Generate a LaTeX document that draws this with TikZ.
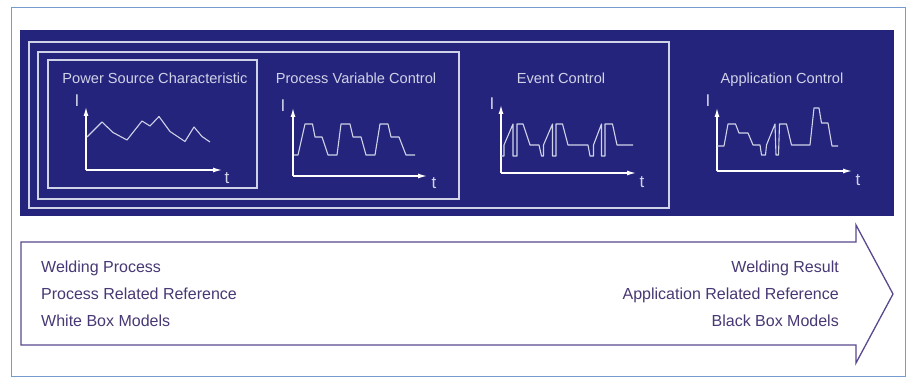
\documentclass[tikz,border=0pt]{standalone}
\usepackage{fontspec}
\setmainfont{Liberation Sans}
\usetikzlibrary{positioning, arrows.meta}
\definecolor{navy}{RGB}{36,36,124}
\definecolor{framegrey}{RGB}{208,210,232}
\definecolor{arrowline}{RGB}{90,72,142}
\definecolor{labeltext}{RGB}{72,56,116}
\definecolor{pageline}{RGB}{118,156,206}

\begin{document}
\begin{tikzpicture}[x=1pt, y=-1pt,
    title/.style={text=framegrey, font=\fontsize{14.6}{17}\selectfont, anchor=base, inner sep=0pt},
    axislabel/.style={text=framegrey, font=\fontsize{17}{20}\selectfont, anchor=base, inner sep=0pt},
    note/.style={text=labeltext, font=\fontsize{16}{19}\selectfont, inner sep=0pt},
    frameline/.style={draw=framegrey, line width=1.2pt},
    curveline/.style={framegrey, line width=1.1pt, line join=round},
    axisline/.style={white, line width=1.2pt, -{Latex[length=9pt,width=5pt]}}]
    \useasboundingbox (0,0) rectangle (908,379);
    \fill[white] (0,0) rectangle (908,379);
    \draw[pageline, line width=1pt] (11,8) rectangle (905,377);

    % dark panel with the nested control frames
    \fill[navy] (20,30) rectangle (894,216);
    \draw[frameline] (29,42) rectangle (669,208);
    \draw[frameline] (38,52) rectangle (459,199);
    \draw[frameline] (48,60) rectangle (257,188);

    \node[title] (psc) at (155,84) {Power Source Characteristic};
    \node[title] (pvc) at (356,84) {Process Variable Control};
    \node[title] (evc) at (561,84) {Event Control};
    \node[title] (apc) at (782,84) {Application Control};

    % axes
    \foreach \n/\ox/\oy/\tx/\ty/\ix/\iy/\sx/\sy in
      {1/86/170/222/107/77/107/227/184,
       2/293/176/427/108/283/112/434/189,
       3/501/173/636/105/492/110/642/188,
       4/717/171/852/108/708/107/858/186}
    {
    \coordinate (O\n) at (\ox,\oy);
    \coordinate (X\n) at (\tx,\oy);
    \coordinate (Y\n) at (\ox,\ty);
    \draw[axisline] (O\n) -- (X\n);
    \draw[axisline] (O\n) -- (Y\n);
    \node[axislabel] (I\n) at (\ix,\iy) {I};
    \node[axislabel] (t\n) at (\sx,\sy) {t};
    }

    % current curves
    \draw[curveline] (87,137) -- (102,122) -- (113,132.5) -- (127,140) -- (142,121) -- (150,126)
      -- (159,116.5) -- (170,131.5) -- (185,141.5) -- (194,127) -- (202,136.5) -- (210,142);
    \draw[curveline] (294,155) -- (298,155) -- (305,124) -- (312.5,124) -- (315,137) -- (322,137)
      -- (328,155) -- (337,155) -- (341,124) -- (350,124) -- (353,137) -- (361,137)
      -- (366,155) -- (375,155) -- (380,124) -- (388,124) -- (391,137) -- (399,137)
      -- (406,155) -- (415,155);
    \draw[curveline] (501,156) -- (504,156) -- (504,145) -- (513,124) -- (513,156) -- (517,156)
      -- (517,124) -- (523,124) -- (530,145) -- (539,145) -- (541.5,156) -- (543.5,156)
      -- (543.5,145) -- (552.5,124) -- (552.5,156) -- (556,156) -- (556,124) -- (562.5,124)
      -- (568,145) -- (588,145) -- (590,156) -- (593.5,156) -- (593.5,145) -- (601.5,124)
      -- (601.5,156) -- (605,156) -- (605,124) -- (612.5,124) -- (617,145) -- (633,145);
    \draw[curveline] (717,146) -- (724,146) -- (728,124) -- (735.5,124) -- (739,133) -- (748,133)
      -- (753,145) -- (760,145) -- (761.5,155) -- (765.5,155) -- (766.5,145) -- (775,124)
      -- (776,155) -- (778.5,155) -- (779.5,124) -- (786.5,124) -- (791.5,145) -- (810,145)
      -- (814,108) -- (819,108) -- (821.5,123) -- (828,123) -- (832,146) -- (838,146);

    % bottom arrow
    \coordinate (A1) at (21,242);
    \coordinate (A2) at (856,242);
    \coordinate (A3) at (856,225);
    \coordinate (A4) at (893,294);
    \coordinate (A5) at (856,363);
    \coordinate (A6) at (856,345);
    \coordinate (A7) at (21,345);
    \draw[arrowline, line width=1.3pt, fill=white, line join=miter] (A1) -- (A2) -- (A3) -- (A4) -- (A5) -- (A6) -- (A7) -- cycle;

    \node[note, anchor=base west] (wproc) at (41,273) {Welding Process};
    \node[note, anchor=base west] (pref) at (41,300) {Process Related Reference};
    \node[note, anchor=base west] (wbox) at (41,327) {White Box Models};
    \node[note, anchor=base east] (wres) at (839,273) {Welding Result};
    \node[note, anchor=base east] (aref) at (839,300) {Application Related Reference};
    \node[note, anchor=base east] (bbox) at (839,327) {Black Box Models};
\end{tikzpicture}
\end{document}
